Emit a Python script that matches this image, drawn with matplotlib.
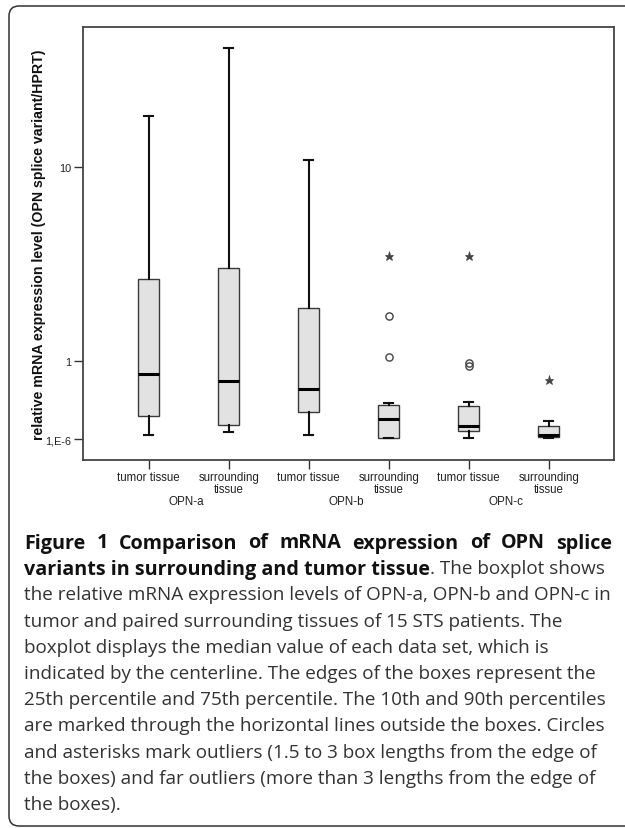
import matplotlib
matplotlib.use('Agg')
import matplotlib.pyplot as plt
from matplotlib.patches import FancyBboxPatch
from matplotlib.transforms import IdentityTransform
from matplotlib.ticker import NullLocator

# ---------------- data ----------------
positions = [1, 2, 3, 4, 5, 6]
tissue_labels = ['tumor tissue', 'surrounding\ntissue'] * 3
groups = ['OPN-a', 'OPN-b', 'OPN-c']
group_centers = [1.5, 3.5, 5.5]

whislo = [0.415, 0.428, 0.414, 0.400, 0.400, 0.398]
q1 = [0.516, 0.464, 0.545, 0.400, 0.432, 0.402]
med = [0.854, 0.786, 0.714, 0.500, 0.458, 0.415]
q3 = [2.64, 3.01, 1.88, 0.588, 0.582, 0.458]
whishi = [18.3, 41.1, 10.83, 0.603, 0.614, 0.490]

circle_box = [4, 4, 5, 5]
circle_vals = [1.71, 1.05, 0.975, 0.935]
star_box = [4, 5, 6]
star_vals = [3.48, 3.48, 0.795]

ytick_vals = [0.394, 1, 10]
ytick_labels = ['1,E-6', '1', '10']

ylabel = 'relative mRNA expression level (OPN splice variant/HPRT)'

caption_title1 = 'Figure 1 Comparison of mRNA expression of OPN splice'
caption_title2 = 'variants in surrounding and tumor tissue'
caption_rest2 = '. The boxplot shows'
caption_lines = [
    'the relative mRNA expression levels of OPN-a, OPN-b and OPN-c in',
    'tumor and paired surrounding tissues of 15 STS patients. The',
    'boxplot displays the median value of each data set, which is',
    'indicated by the centerline. The edges of the boxes represent the',
    '25th percentile and 75th percentile. The 10th and 90th percentiles',
    'are marked through the horizontal lines outside the boxes. Circles',
    'and asterisks mark outliers (1.5 to 3 box lengths from the edge of',
    'the boxes) and far outliers (more than 3 lengths from the edge of',
    'the boxes).',
]

# ---------------- figure ----------------
W, H = 625, 829
DPI = 100
fig = plt.figure(figsize=(W / DPI, H / DPI), dpi=DPI)
fig.patch.set_facecolor('white')

# rounded border (pixel coordinates, origin bottom-left)
bx0, btop, bbot = 9.0, 7.0, 827.0
border = FancyBboxPatch((bx0, H - bbot), 700, bbot - btop,
                        boxstyle='round,pad=0,rounding_size=10',
                        transform=IdentityTransform(), fill=False,
                        edgecolor='#333333', linewidth=1.1, zorder=0)
fig.patches.append(border)

ax_l, ax_r, ax_t, ax_b = 82.5, 613.5, 28.0, 461.0
ax = fig.add_axes([ax_l / W, 1 - ax_b / H, (ax_r - ax_l) / W, (ax_b - ax_t) / H])
ax.set_yscale('log')

stats = []
for i in range(len(positions)):
    stats.append(dict(whislo=whislo[i], q1=q1[i], med=med[i], q3=q3[i],
                      whishi=whishi[i], fliers=[]))

ax.bxp(stats, positions=positions, widths=0.26, capwidths=0.11,
       patch_artist=True, showfliers=False, manage_ticks=False,
       boxprops=dict(facecolor='#e2e2e2', edgecolor='#3a3a3a', linewidth=1.0),
       medianprops=dict(color='black', linewidth=2.2, solid_capstyle='butt'),
       whiskerprops=dict(color='#111111', linewidth=1.5),
       capprops=dict(color='#111111', linewidth=1.5))

ax.plot(circle_box, circle_vals, linestyle='none', marker='o', markersize=5.2,
        markerfacecolor='none', markeredgecolor='#444444', markeredgewidth=1.0)
ax.plot(star_box, star_vals, linestyle='none', marker='*', markersize=6.5,
        color='#444444', markeredgewidth=0.5)

ax.set_xlim(0.171, 6.81)
ax.set_ylim(0.3072, 52.8)

ax.yaxis.set_minor_locator(NullLocator())
ax.set_yticks(ytick_vals)
ax.set_yticklabels(ytick_labels)
ax.set_xticks(positions)
ax.set_xticklabels(tissue_labels, linespacing=0.95)

ax.tick_params(axis='both', direction='out', length=6.5, width=1.0,
               color='#333333', labelcolor='#222222', labelsize=7.8,
               labelfontfamily='Liberation Sans')
ax.tick_params(axis='x', pad=1.5, labelsize=8.3)
ax.tick_params(axis='y', pad=1.5)

for s in ax.spines.values():
    s.set_color('#444444')
    s.set_linewidth(1.3)

for g, c in zip(groups, group_centers):
    ax.annotate(g, xy=(c, 0), xycoords=('data', 'axes fraction'),
                xytext=(-2, -(502 - ax_b) * 72 / DPI), textcoords='offset points',
                ha='center', va='center', fontsize=8.4, color='#222222',
                family='Liberation Sans')

fig.text(39 / W, 1 - 245 / H, ylabel, rotation=90, ha='center', va='center',
         fontsize=10.2, fontweight='bold', family='Liberation Sans', color='#111111')

# ---------------- caption ----------------
renderer = fig.canvas.get_renderer()
x0, x1 = 24.0, 612.0
cap_font = 'Open Sans'
base = 10.0
probe = fig.text(0, 0, caption_lines[4], fontsize=base, family=cap_font)
wprobe = probe.get_window_extent(renderer).width
probe.remove()
fs = base * (580.0 / wprobe)
fsb = fs * 1.05

line_y = [541 + 26.2 * k for k in range(11)]

def fy(y):
    return 1 - y / H

# line 1 justified bold
words = caption_title1.split()
tmp = [fig.text(0, 0, w, fontsize=fsb, family=cap_font, fontweight='bold') for w in words]
widths = [t.get_window_extent(renderer).width for t in tmp]
for t in tmp:
    t.remove()
gap = ((x1 - x0) - sum(widths)) / (len(words) - 1)
xx = x0
for w, wd in zip(words, widths):
    fig.text(xx / W, fy(line_y[0]), w, fontsize=fsb, family=cap_font,
             fontweight='bold', ha='left', va='center_baseline', color='#111111')
    xx += wd + gap

# line 2 mixed bold / regular
t2 = fig.text(x0 / W, fy(line_y[1]), caption_title2, fontsize=fsb, family=cap_font,
              fontweight='bold', ha='left', va='center_baseline', color='#111111')
w2 = t2.get_window_extent(renderer).width
fig.text((x0 + w2) / W, fy(line_y[1]), caption_rest2, fontsize=fs, family=cap_font,
         ha='left', va='center_baseline', color='#333333')

for k, ln in enumerate(caption_lines):
    fig.text(x0 / W, fy(line_y[k + 2]), ln, fontsize=fs, family=cap_font,
             ha='left', va='center_baseline', color='#333333')

fig.savefig('out.png', dpi=DPI, facecolor='white')
